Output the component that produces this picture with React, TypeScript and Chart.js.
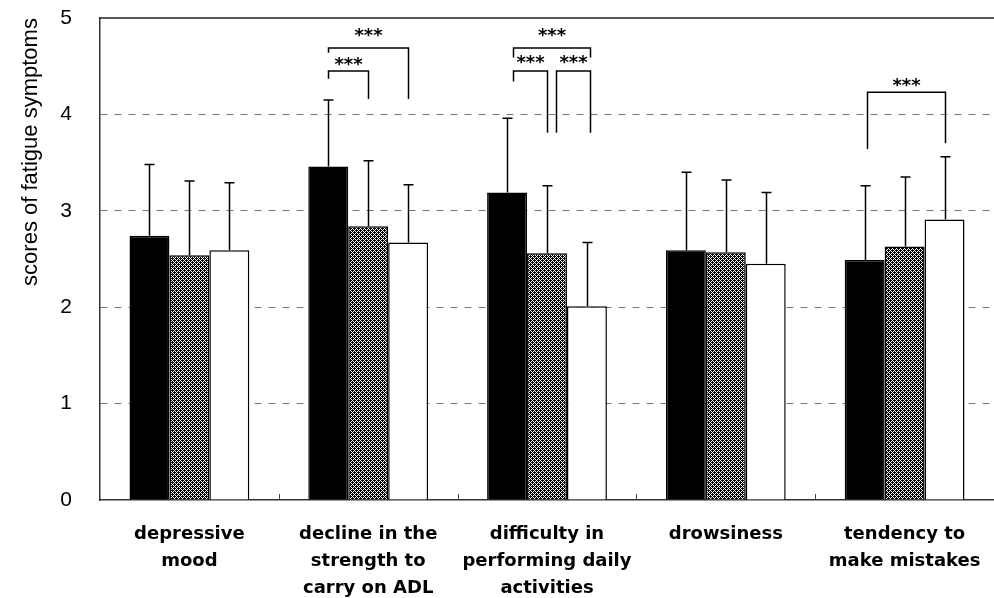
import React, { useEffect, useRef } from "react";
import { Chart, registerables } from "chart.js";

Chart.register(...registerables);

const categories: string[][] = [
  ["depressive", "mood"],
  ["decline in the", "strength to", "carry on ADL"],
  ["difficulty in", "performing daily", "activities"],
  ["drowsiness"],
  ["tendency to", "make mistakes"],
];

const blackValues = [2.74, 3.46, 3.19, 2.59, 2.49];
const hatchedValues = [2.54, 2.84, 2.56, 2.57, 2.63];
const whiteValues = [2.59, 2.67, 2.01, 2.45, 2.91];

const blackSD = [0.74, 0.69, 0.77, 0.81, 0.77];
const hatchedSD = [0.77, 0.68, 0.7, 0.75, 0.72];
const whiteSD = [0.7, 0.6, 0.66, 0.74, 0.65];

const yTicks = [0, 1, 2, 3, 4, 5];
const yTitle = "scores of fatigue symptoms";

// significance brackets: category index, leg positions (bar index units), top, leg bottoms, star level
const bracketCats = [1, 1, 2, 2, 2, 4];
const bracketFrom = [0, 0, 0.14, 0.14, 1.23, 0.05];
const bracketTo = [1, 2, 2.08, 1.0, 2.08, 2];
const bracketTop = [4.45, 4.69, 4.69, 4.45, 4.45, 4.23];
const bracketLeftEnd = [4.37, 4.64, 4.59, 4.34, 3.81, 3.64];
const bracketRightEnd = [4.16, 4.16, 4.59, 3.81, 3.81, 3.7];
const bracketStarLevel = [4.55, 4.85, 4.85, 4.57, 4.57, 4.33];
const bracketLabel = ["***", "***", "***", "***", "***", "***"];

function makePattern(): CanvasPattern | string {
  const c = document.createElement("canvas");
  c.width = 4;
  c.height = 4;
  const g = c.getContext("2d");
  if (!g) return "#444";
  g.fillStyle = "#000";
  g.fillRect(0, 0, 4, 4);
  g.fillStyle = "#fff";
  for (let x = 0; x < 4; x++) {
    for (let y = 0; y < 4; y++) {
      if ((x + y) % 4 === 0 || (x - y + 8) % 4 === 0) g.fillRect(x, y, 1, 1);
    }
  }
  return g.createPattern(c, "repeat") || "#444";
}

export default function App() {
  const ref = useRef<HTMLCanvasElement | null>(null);

  useEffect(() => {
    document.body.style.margin = "0";
    const canvas = ref.current;
    if (!canvas) return;
    const pattern = makePattern();
    const sds = [blackSD, hatchedSD, whiteSD];

    const decor = {
      id: "decor",
      afterDatasetsDraw(chart: any) {
        const ctx = chart.ctx;
        const y = chart.scales.y;
        const x = chart.scales.x;
        const area = chart.chartArea;
        ctx.save();
        // top border
        ctx.strokeStyle = "#222";
        ctx.lineWidth = 1.5;
        ctx.beginPath();
        ctx.moveTo(area.left, area.top);
        ctx.lineTo(area.right, area.top);
        ctx.stroke();
        // inward category ticks
        ctx.lineWidth = 1;
        ctx.strokeStyle = "#444";
        for (let i = 0; i < categories.length - 1; i++) {
          const px = Math.round((x.getPixelForValue(i) + x.getPixelForValue(i + 1)) / 2) + 0.5;
          ctx.beginPath();
          ctx.moveTo(px, area.bottom);
          ctx.lineTo(px, area.bottom - 6);
          ctx.stroke();
        }
        // error bars
        ctx.strokeStyle = "#000";
        ctx.lineWidth = 1.5;
        chart.data.datasets.forEach((ds: any, di: number) => {
          const meta = chart.getDatasetMeta(di);
          meta.data.forEach((el: any, i: number) => {
            const top = y.getPixelForValue(ds.data[i] + sds[di][i]);
            const cx = Math.round(el.x) + 0.5;
            ctx.beginPath();
            ctx.moveTo(cx, el.y);
            ctx.lineTo(cx, top);
            ctx.moveTo(cx - 5, top);
            ctx.lineTo(cx + 5, top);
            ctx.stroke();
          });
        });
        // brackets
        const posX = (cat: number, p: number) => {
          const i = Math.min(Math.floor(p), 2);
          const el = chart.getDatasetMeta(i).data[cat];
          return el.x + (p - i) * el.width;
        };
        ctx.lineWidth = 1.5;
        ctx.font = "bold 18px 'DejaVu Sans'";
        ctx.textAlign = "center";
        ctx.textBaseline = "middle";
        ctx.fillStyle = "#000";
        for (let b = 0; b < bracketCats.length; b++) {
          const c = bracketCats[b];
          const x1 = Math.round(posX(c, bracketFrom[b])) + 0.5;
          const x2 = Math.round(posX(c, bracketTo[b])) + 0.5;
          const yt = y.getPixelForValue(bracketTop[b]);
          ctx.beginPath();
          ctx.moveTo(x1, y.getPixelForValue(bracketLeftEnd[b]));
          ctx.lineTo(x1, yt);
          ctx.lineTo(x2, yt);
          ctx.lineTo(x2, y.getPixelForValue(bracketRightEnd[b]));
          ctx.stroke();
          ctx.fillText(bracketLabel[b], (x1 + x2) / 2, y.getPixelForValue(bracketStarLevel[b]) + 4);
        }
        // y title
        ctx.font = "22px 'Liberation Sans'";
        ctx.translate(31, 152);
        ctx.rotate(-Math.PI / 2);
        ctx.textBaseline = "middle";
        ctx.fillText(yTitle, 0, 0);
        ctx.restore();
      },
    };

    const chart = new Chart(canvas, {
      type: "bar",
      data: {
        labels: categories,
        datasets: [
          { data: blackValues, backgroundColor: "#000", borderColor: "#000", borderWidth: 1.5 },
          { data: hatchedValues, backgroundColor: pattern as any, borderColor: "#000", borderWidth: 1.5 },
          { data: whiteValues, backgroundColor: "#fff", borderColor: "#000", borderWidth: 1.5 },
        ],
      },
      options: {
        animation: false,
        responsive: true,
        maintainAspectRatio: false,
        layout: { autoPadding: false, padding: { top: 18, right: 0, left: 0, bottom: 0 } },
        plugins: { legend: { display: false }, tooltip: { enabled: false }, title: { display: false } },
        datasets: { bar: { categoryPercentage: 0.67, barPercentage: 1 } },
        scales: {
          x: {
            grid: { display: false, drawTicks: false },
            border: { display: true, color: "#333", width: 1.5 },
            ticks: {
              color: "#000",
              font: { family: "'DejaVu Sans'", size: 18, weight: "bold", lineHeight: "27px" } as any,
              padding: 21,
              maxRotation: 0,
              autoSkip: false,
            },
            afterFit: (s: any) => {
              s.height = 98;
              s.paddingLeft = 0;
              s.paddingRight = 0;
              s.paddingTop = 0;
              s.paddingBottom = 0;
            },
          },
          y: {
            min: 0,
            max: 5,
            afterBuildTicks: (s: any) => {
              s.ticks = yTicks.map((v) => ({ value: v }));
            },
            grid: {
              drawTicks: false,
              color: (c: any) => (c.tick && (c.tick.value === 0 || c.tick.value === 5) ? "rgba(0,0,0,0)" : "#777"),
              lineWidth: 1,
            },
            border: { display: true, color: "#333", width: 1.5, dash: [7, 7] } as any,
            ticks: {
              color: "#000",
              font: { family: "'Liberation Sans'", size: 21 },
              padding: 28,
            },
            afterFit: (s: any) => {
              s.width = 100;
              s.paddingLeft = 0;
              s.paddingRight = 0;
              s.paddingTop = 0;
              s.paddingBottom = 0;
            },
          },
        },
      },
      plugins: [decor],
    });
    return () => chart.destroy();
  }, []);

  return (
    <div style={{ position: "relative", width: 994, height: 598 }}>
      <canvas ref={ref} />
    </div>
  );
}
